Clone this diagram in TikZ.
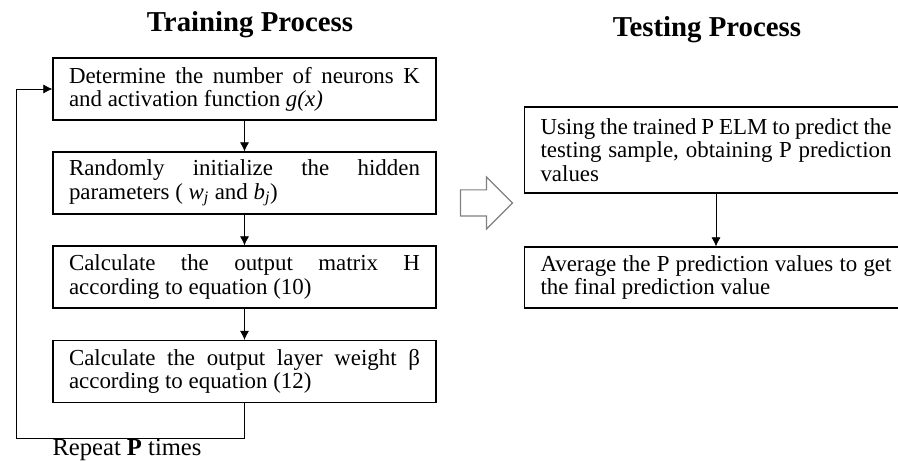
\documentclass[tikz,border=0pt]{standalone}
\usepackage{fontspec}
\setmainfont{Liberation Serif}
\usepackage{tikz}
\usetikzlibrary{arrows.meta, positioning, shapes.arrows}

\hyphenpenalty=10000
\exhyphenpenalty=10000

\tikzset{stepbox/.style={draw, line width=0.8pt, text width=8.775cm, inner xsep=0.4cm,
		minimum height=1.55cm, align=justify, font=\fontsize{16.3}{16.5}\selectfont},
	title/.style={font=\fontsize{20.5}{24}\selectfont\bfseries}}

\begin{document}
\begin{tikzpicture}[->,
				>={Latex[length=6.5pt,width=6.5pt]},
				thick]
				\useasboundingbox (0,0) rectangle (22.45,-11.525);
				% training side
				\node at (6.25,-0.625) (train) [title] {Training Process};
				\node at (6.1125,-2.225) (init) [stepbox] {Determine the number of neurons K and activation function \textit{g(x)}};
				\node at (6.1125,-4.575) (rand) [stepbox] {Randomly initialize the hidden parameters ( \textit{w\textsubscript{j}} and \textit{b\textsubscript{j}})};
				\node at (6.1125,-6.925) (hmat) [stepbox] {Calculate the output matrix H according to equation (10)};
				\node at (6.1125,-9.2875) (beta) [stepbox] {Calculate the output layer weight β according to equation (12)};
				\coordinate (loop) at (0.4,-10.95);
				\node at (3.175,-11.4) (rep) [anchor=base, font=\fontsize{17.5}{20}\selectfont, inner sep=0pt] {Repeat \textbf{P} times};
				\draw[->, black, line width=0.6pt] (init) -- (rand);
				\draw[->, black, line width=0.6pt] (rand) -- (hmat);
				\draw[->, black, line width=0.6pt] (hmat) -- (beta);
				\draw[->, black, line width=0.6pt] (beta.south) |- (loop) |- (init.west);
				% hollow arrow between the two sides
				\node at (12.0,-5.075) (go) [draw=gray, line width=0.8pt, single arrow, -, minimum height=1.3cm,
					inner xsep=0pt, inner ysep=0.3125cm, single arrow head extend=0.325cm] {};
				% testing side
				\node at (17.675,-0.75) (test) [title] {Testing Process};
				\node at (17.9,-3.75) (pred) [stepbox, minimum height=2.15cm] {Using the trained P ELM to predict the testing sample, obtaining P prediction values};
				\node at (17.9,-6.9375) (avg) [stepbox, minimum height=1.525cm] {Average the P prediction values to get the final prediction value};
				\draw[->, black, line width=0.6pt] (pred) -- (avg);
			\end{tikzpicture}
\end{document}
